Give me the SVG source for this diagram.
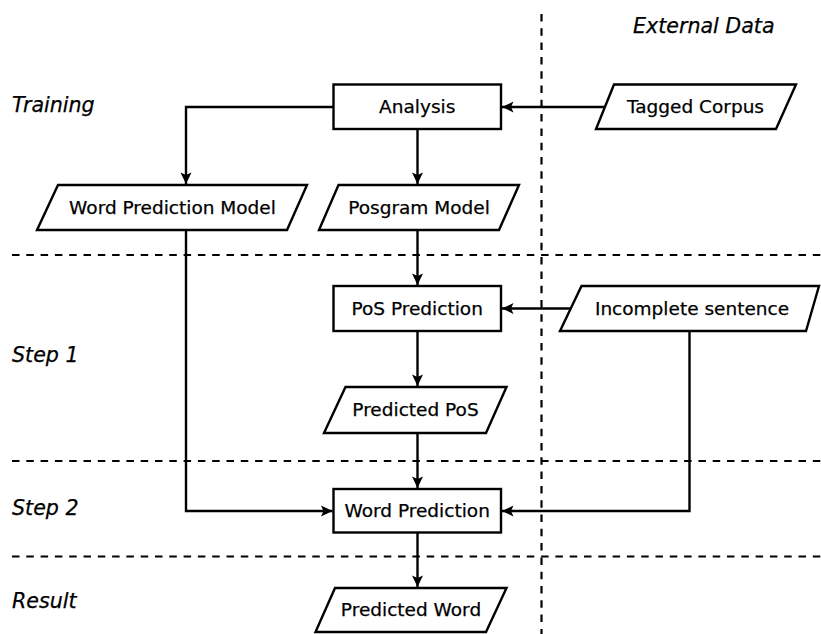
<svg xmlns="http://www.w3.org/2000/svg" width="821" height="634" viewBox="0 0 821 634">
<style>
.n{fill:#fff;stroke:#000;stroke-width:2.4}
.t{font-family:"DejaVu Sans",sans-serif;font-size:18.5px;text-anchor:middle;fill:#000;stroke:#000;stroke-width:0.25}
.l{font-family:"DejaVu Sans",sans-serif;font-style:italic;font-size:20.6px;fill:#000;stroke:#000;stroke-width:0.25}
.d{fill:none;stroke:#000;stroke-width:2.2;stroke-dasharray:7.5 6.8}
.c{fill:none;stroke:#000;stroke-width:2.4;marker-end:url(#a)}
</style>
<defs>
<marker id="a" markerUnits="userSpaceOnUse" markerWidth="14" markerHeight="12" viewBox="-12 -6 14 12" refX="0" refY="0" orient="auto">
<path d="M0,0 L-11.5,-5.5 L-9,0 L-11.5,5.5 Z" fill="#000"/>
</marker>
</defs>
<g id="guides">
<line class="d" x1="541.5" y1="14" x2="541.5" y2="634"/>
<line class="d" x1="12" y1="255" x2="821" y2="255"/>
<line class="d" x1="12" y1="461" x2="821" y2="461"/>
<line class="d" x1="12" y1="556.5" x2="821" y2="556.5"/>
</g>
<g id="labels">
<text class="l" x="12" y="112">Training</text>
<text class="l" x="633" y="33">External Data</text>
<text class="l" x="12" y="362">Step 1</text>
<text class="l" x="12" y="515">Step 2</text>
<text class="l" x="12" y="608">Result</text>
</g>
<g id="connectors">
<path class="c" d="M333.5,107 H186 V184"/>
<path class="c" d="M417.5,129 V184"/>
<path class="c" d="M605,107 H502"/>
<path class="c" d="M417.5,230 V285"/>
<path class="c" d="M571,308.5 H502"/>
<path class="c" d="M417.5,331 V386"/>
<path class="c" d="M417.5,433 V488"/>
<path class="c" d="M186,230 V511 H332.5"/>
<path class="c" d="M689.5,331 V511 H502"/>
<path class="c" d="M417.5,532 V587"/>
</g>
<g id="analysis">
<rect class="n" x="333.5" y="84.5" width="167.5" height="44.5"/>
<text class="t" x="417.2" y="113">Analysis</text>
</g>
<g id="tagged-corpus">
<polygon class="n" points="614,84.5 796,84.5 776,129 596,129"/>
<text class="t" x="695.5" y="113">Tagged Corpus</text>
</g>
<g id="word-prediction-model">
<polygon class="n" points="58,185 307,185 287,230 37,230"/>
<text class="t" x="172.5" y="214">Word Prediction Model</text>
</g>
<g id="posgram-model">
<polygon class="n" points="338.5,185 519,185 499,230 319,230"/>
<text class="t" x="419" y="214">Posgram Model</text>
</g>
<g id="pos-prediction">
<rect class="n" x="333.5" y="286" width="167.5" height="45"/>
<text class="t" x="417.2" y="315">PoS Prediction</text>
</g>
<g id="incomplete-sentence">
<polygon class="n" points="581.5,286 819,286 806,331 560,331"/>
<text class="t" x="692" y="315">Incomplete sentence</text>
</g>
<g id="predicted-pos">
<polygon class="n" points="345.5,387 506.5,387 486,433 324,433"/>
<text class="t" x="415.5" y="416">Predicted PoS</text>
</g>
<g id="word-prediction">
<rect class="n" x="333.5" y="489" width="167.5" height="43.5"/>
<text class="t" x="417.2" y="517">Word Prediction</text>
</g>
<g id="predicted-word">
<polygon class="n" points="335,588 506.5,588 486,632 315.5,632"/>
<text class="t" x="411" y="616">Predicted Word</text>
</g>
</svg>
